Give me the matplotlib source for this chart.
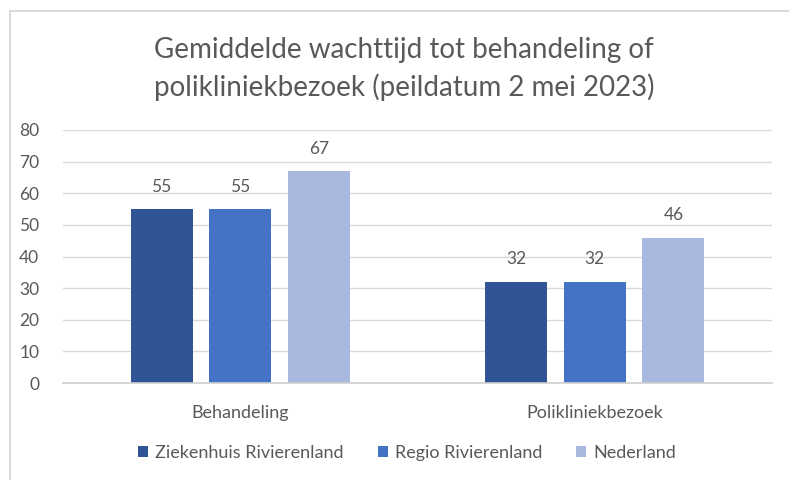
import matplotlib
matplotlib.use("Agg")
import matplotlib.pyplot as plt
import numpy as np
from matplotlib.patches import Rectangle

categories = ["Behandeling", "Polikliniekbezoek"]
series_names = ["Ziekenhuis Rivierenland", "Regio Rivierenland", "Nederland"]
ziekenhuis = [55, 32]
regio = [55, 32]
nederland = [67, 46]
yticks = [0, 10, 20, 30, 40, 50, 60, 70, 80]
title = "Gemiddelde wachttijd tot behandeling of\npolikliniekbezoek (peildatum 2 mei 2023)"

colors = ["#2F5597", "#4472C4", "#A9B8DE"]
txt = "#595959"
plt.rcParams['font.family'] = ['Lato', 'DejaVu Sans']

fig = plt.figure(figsize=(7.89, 4.80), dpi=100)
W, H = 789, 480
ax = fig.add_axes([63 / W, 1 - 383 / H, (772 - 63) / W, (383 - 130) / H])

x = np.arange(len(categories))
bw = 0.175
offs = [-0.222, 0, 0.222]
for vals, off, c, name in zip([ziekenhuis, regio, nederland], offs, colors, series_names):
    bars = ax.bar(x + off, vals, width=bw, color=c, label=name, zorder=3)
    for b, v in zip(bars, vals):
        ax.text(b.get_x() + b.get_width() / 2, v + 4.6, str(v), ha='center', va='bottom',
                fontsize=12.5, color=txt)

ax.set_xlim(-0.5, 1.5)
ax.set_ylim(0, 80)
ax.set_yticks(yticks)
ax.set_xticks(x)
ax.set_xticklabels(categories)
ax.grid(axis='y', color='#D9D9D9', linewidth=1, zorder=0)
for s in ['top', 'right', 'left']:
    ax.spines[s].set_visible(False)
ax.spines['bottom'].set_color('#D0D0D0')
ax.spines['bottom'].set_linewidth(1.2)
ax.spines['bottom'].set_zorder(4)
ax.tick_params(axis='y', length=0, labelsize=12.5, colors=txt, pad=17)
ax.tick_params(axis='x', length=0, labelsize=13, colors=txt, pad=16)

fig.text(404 / W, 1 - 69 / H, title, ha='center', va='center',
         fontsize=20, color=txt, linespacing=1.45)

leg = fig.legend(loc='center', bbox_to_anchor=(407 / W, 1 - 453 / H), ncol=3, frameon=False,
                 fontsize=13, handlelength=0.55, handleheight=0.55, handletextpad=0.4,
                 columnspacing=1.9)
for t in leg.get_texts():
    t.set_color(txt)

fig.patches.append(Rectangle((9.5 / W, -0.1), 1.2, 1 - 11 / H + 0.1, transform=fig.transFigure,
                             fill=False, edgecolor='#D9D9D9', linewidth=1.5, zorder=0))

fig.savefig("out.png", dpi=100, facecolor='white')
